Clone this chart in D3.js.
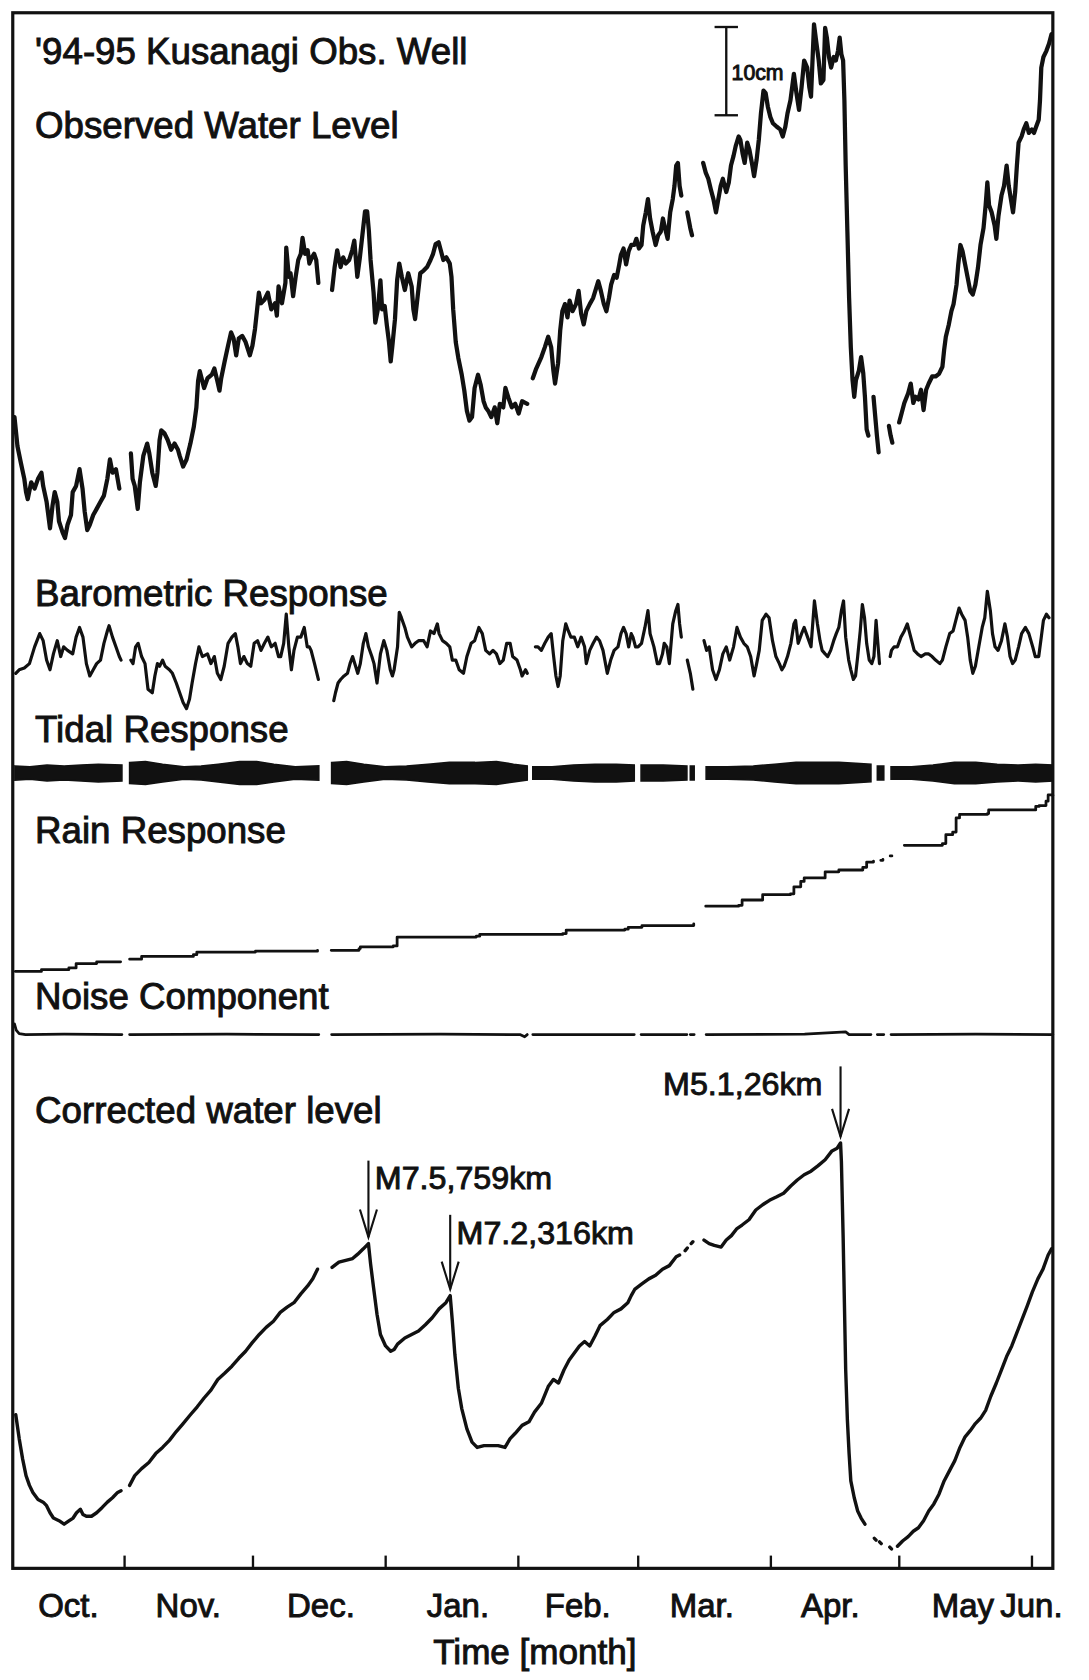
<!DOCTYPE html>
<html>
<head>
<meta charset="utf-8">
<script src="https://cdn.jsdelivr.net/npm/d3@7"></script>
<style>
  body { margin: 0; background: #fff; }
  text { font-family: "Liberation Sans", Arial, Helvetica, sans-serif; fill: #111; stroke: #111; stroke-width: 0.9; }
</style>
</head>
<body>
<div id="chart"></div>
<script>
// ---- data: [day since 1994-10-06, cm]; null marks a gap in the record ----
const monthTicks = ["1994-11-01", "1994-12-01", "1995-01-01", "1995-02-01", "1995-03-01", "1995-04-01", "1995-05-01", "1995-06-01"];
const monthNames = ["Oct.", "Nov.", "Dec.", "Jan.", "Feb.", "Mar.", "Apr.", "May", "Jun."];
const monthLabelDates = ["1994-10-19", "1994-11-16", "1994-12-17", "1995-01-18", "1995-02-15", "1995-03-16", "1995-04-15", "1995-05-16", "1995-06-01"];

const observed = [
  [0.4,17.8],[1.1,14.5],[1.9,12.6],[2.7,10.8],[3.1,9.3],[3.5,8.5],[4.3,10.4],[5.1,9.7],[5.9,10.8],[6.7,11.5],[7.1,10.0],[7.9,8.2],[8.7,5.2],[9.3,7.8],[9.8,9.3],[10.4,8.2],[10.8,6.0],[11.6,4.8],[12.2,4.1],[12.8,5.6],[13.6,6.7],[14.0,9.3],[14.8,10.0],[15.6,11.9],[16.3,9.7],[16.8,7.1],[17.4,5.0],[18.0,5.6],[18.8,6.7],[19.6,7.4],[20.5,8.2],[21.3,8.9],[22.1,10.8],[22.7,13.0],[23.3,11.5],[24.1,11.9],[24.9,9.7],
  [26,null],
  [27.6,13.7],[28.0,10.8],[28.5,10.0],[29.2,7.4],[29.7,10.4],[30.5,13.4],[31.4,14.8],[31.9,13.7],[32.6,11.5],[33.4,10.0],[33.8,11.5],[34.3,15.2],[34.7,16.3],[35.4,16.0],[36.2,15.2],[37.0,14.1],[37.8,14.8],[38.6,14.1],[39.0,13.4],[39.8,12.2],[40.6,13.0],[41.5,14.8],[42.3,16.7],[42.9,18.9],[43.3,21.9],[43.7,23.0],[44.7,21.1],[45.5,22.2],[46.5,22.6],[47.1,23.3],[47.8,21.9],[48.3,20.8],[48.7,22.2],[49.5,24.1],[50.3,25.9],[51.0,27.4],[51.6,26.7],[52.2,24.8],[52.8,26.7],[53.6,27.0],[54.4,26.3],[55.4,24.8],[56.0,25.9],[56.6,27.8],[57.0,29.6],[57.5,31.9],[58.0,30.7],[58.8,31.1],[59.6,31.9],[60.4,30.0],[61.3,30.7],[61.7,29.3],[62.1,32.6],[62.9,30.7],[63.7,33.0],[63.9,37.0],[64.5,33.7],[64.9,34.1],[65.5,31.5],[66.1,33.7],[66.7,35.6],[67.3,36.3],[67.7,38.1],[68.3,36.3],[68.9,36.7],[69.3,35.2],[69.9,35.9],[70.4,36.3],[70.9,35.6],[71.4,33.0],
  [73,null],
  [74.6,32.2],[75.2,34.8],[75.8,36.7],[76.6,34.8],[77.2,35.9],[77.8,35.2],[78.6,35.6],[79.3,36.7],[79.8,37.8],[80.5,33.7],[81.1,35.9],[81.7,38.5],[82.3,41.1],[82.8,41.1],[83.2,38.9],[83.6,35.6],[84.3,31.9],[84.7,28.5],[85.3,30.0],[85.9,33.3],[86.3,30.0],[86.9,30.4],[87.4,28.2],[87.9,26.3],[88.3,24.1],[88.7,25.9],[89.3,28.9],[89.8,33.3],[90.3,35.2],[90.9,33.7],[91.6,32.2],[92.4,34.1],[93.2,32.6],[93.6,30.0],[94.0,28.9],[94.6,31.5],[95.2,34.1],[96.0,34.4],[96.8,34.8],[97.6,35.6],[98.2,36.3],[98.8,37.4],[99.5,37.6],[100.0,36.7],[100.6,35.6],[101.3,35.9],[102.1,35.2],[102.5,33.7],[102.9,30.0],[103.5,26.3],[104.1,24.5],[104.9,22.6],[105.5,20.8],[106.1,18.5],[106.7,17.4],[107.3,17.8],[107.9,21.1],[108.7,22.6],[109.3,21.5],[110.0,19.6],[110.5,18.9],[111.1,18.5],[111.8,17.8],[112.6,18.9],[113.2,17.1],[113.8,19.3],[114.6,18.9],[115.1,21.1],[115.8,20.0],[116.6,18.9],[117.4,19.3],[118.2,18.2],[119.0,19.6],[120.2,19.3],
  [121,null],
  [121.5,22.2],[122.3,23.3],[123.5,24.6],[124.3,25.7],[125.1,26.9],[125.8,25.7],[126.3,23.1],[126.7,21.6],[127.4,23.9],[127.9,27.6],[128.4,29.8],[129.0,30.6],[129.6,29.1],[130.1,31.0],[130.8,29.8],[131.6,30.6],[132.2,32.1],[132.8,29.5],[133.4,28.3],[134.0,29.8],[134.8,30.6],[135.6,31.3],[136.3,32.4],[136.8,33.2],[137.4,32.1],[138.1,30.6],[138.7,29.8],[139.3,31.3],[139.8,32.8],[140.5,33.9],[141.1,33.6],[141.7,35.1],[142.1,36.2],[142.7,36.9],[143.3,35.1],[143.9,36.6],[144.5,37.3],[145.2,37.3],[145.7,38.0],[146.3,36.9],[146.9,37.3],[147.3,39.5],[147.9,41.0],[148.4,42.5],[148.9,40.3],[149.5,38.8],[150.2,37.3],[150.8,38.4],[151.4,38.8],[151.9,40.3],[152.4,39.2],[153.0,38.0],[153.6,41.0],[154.2,42.5],[154.6,44.0],[155.0,46.3],[155.4,46.6],[155.8,44.0],[156.2,42.9],
  [157,null],
  [157.6,41.0],[158.3,39.2],[158.7,38.4],
  [160,null],
  [161.3,46.6],[161.9,45.5],[162.5,44.8],[163.1,43.6],[163.7,42.5],[164.3,41.0],[164.7,42.1],[165.4,44.0],[165.9,44.8],[166.7,43.3],[167.3,44.4],[167.8,46.3],[168.4,47.4],[168.9,48.5],[169.6,49.6],[170.0,49.2],[170.5,47.7],[171.0,46.6],[171.6,48.9],[172.1,48.1],[172.8,46.3],[173.2,45.1],[173.8,47.0],[174.3,49.2],[174.8,52.2],[175.4,54.8],[175.9,54.5],[176.4,53.0],[177.0,51.8],[177.6,51.1],[178.5,50.7],[179.3,50.4],[179.9,49.6],[180.5,50.7],[181.0,52.2],[181.7,53.7],[182.1,55.2],[182.5,56.7],[183.1,54.5],[183.7,52.6],[184.3,55.2],[184.9,58.2],[185.6,57.4],[186.1,55.2],[186.5,54.1],[187.2,62.3],[187.7,60.4],[188.3,58.2],[188.8,55.6],[189.4,56.0],[189.8,61.9],[190.2,60.8],[190.7,58.6],[191.2,57.4],[191.8,58.6],[192.3,58.2],[192.8,59.3],[193.2,60.8],[193.6,58.9],[194.0,58.2],[194.3,53.7],[194.6,46.3],[195.0,38.8],[195.4,31.3],[195.8,25.7],[196.2,22.0],[196.6,20.1],[197.0,22.0],[197.7,23.1],[198.2,24.6],[198.7,22.8],[199.1,20.1],[199.5,16.4],[199.9,15.7],
  [200.5,null],
  [201.1,20.1],[201.5,17.9],[201.9,15.7],[202.3,13.8],
  [203.5,null],
  [204.7,16.8],[205.1,15.7],[205.5,14.9],
  [206.3,null],
  [207.1,17.2],[207.7,18.3],[208.3,19.4],[209.2,20.5],[209.8,21.6],[210.4,19.4],[210.9,20.1],[211.6,19.8],[212.2,20.9],[212.8,18.6],[213.4,20.9],[214.0,21.6],[214.8,22.4],[215.6,22.4],[216.4,22.7],[217.2,23.5],[217.6,25.4],[218.0,26.9],[218.7,28.3],[219.3,29.8],[219.8,30.6],[220.5,32.8],[220.9,35.1],[221.4,37.3],[221.9,36.6],[222.5,35.1],[223.1,33.6],[223.7,32.1],[224.3,31.7],[224.9,32.8],[225.5,34.7],[226.1,37.3],[226.8,39.2],[227.3,41.8],[227.7,44.4],[228.1,41.8],[228.7,41.0],[229.4,39.5],[229.8,38.0],[230.3,40.6],[231.0,42.9],[231.6,44.0],[232.2,46.3],[232.7,44.0],[233.2,42.5],[233.7,41.0],[234.2,43.3],[234.6,46.3],[235.0,48.9],[235.7,49.6],[236.2,50.4],[236.8,51.1],[237.4,50.0],[238.1,50.4],[238.6,50.0],[239.1,50.7],[239.7,51.5],[240.0,53.7],[240.3,57.4],[240.8,58.6],[241.5,59.3],[242.1,60.1],[242.7,61.2]
];

const barometric = [
  [0.7,-2.8],[1.5,-2.4],[2.7,-2.2],[3.9,-1.7],[5.1,0.2],[6.3,1.7],[7.1,0.9],[7.9,-1.3],[8.7,-2.4],[9.5,-0.6],[10.4,0.9],[11.2,-0.9],[11.9,0.2],[12.8,-0.2],[14.0,-0.6],[14.8,1.3],[15.6,2.4],[16.4,1.3],[17.2,-1.7],[18.0,-3.1],[18.8,-2.4],[19.6,-1.7],[20.5,-1.3],[21.3,0.6],[22.1,2.0],[22.5,2.6],[23.3,1.3],[24.1,0.2],[24.9,-0.9],[25.3,-1.3],
  [26.4,null],
  [27.6,-1.3],[28.1,-1.7],[28.7,0.2],[29.3,0.6],[30.1,-0.9],[30.9,-1.7],[31.6,-4.6],[32.6,-5.0],[33.2,-3.1],[33.8,-1.7],[34.3,-2.0],[35.0,-1.3],[35.6,-2.0],[36.6,-2.4],[37.3,-2.8],[38.2,-3.9],[39.0,-5.0],[39.8,-6.1],[40.6,-6.8],[41.3,-5.7],[41.9,-3.9],[42.7,-1.7],[43.5,0.2],[44.3,-0.9],[45.5,-0.6],[46.3,-1.7],[47.1,-0.9],[47.8,-2.8],[48.6,-3.5],[49.4,-2.0],[50.3,0.6],[51.2,1.3],[52.0,1.7],[52.6,0.2],[53.2,-1.7],[54.0,-0.9],[54.8,-1.7],[55.6,-2.0],[56.4,0.6],[57.2,0.9],[58.0,-0.2],[58.8,0.6],[59.6,1.3],[60.4,0.2],[61.3,0.6],[62.1,-0.9],[62.6,-0.9],[63.3,0.6],[63.9,3.9],[64.5,0.2],[65.1,-2.4],[65.7,-0.2],[66.5,1.3],[67.3,1.3],[68.1,2.4],[68.8,0.2],[69.3,0.2],[69.7,-0.2],[70.5,-1.7],[71.4,-3.5],
  [73,null],
  [75.0,-5.9],[75.4,-5.0],[76.0,-3.9],[76.6,-3.5],[77.4,-3.1],[78.2,-2.8],[78.8,-1.7],[79.4,-0.9],[80.1,-2.0],[80.6,-2.8],[81.2,-1.7],[81.9,0.6],[82.5,1.7],[83.1,0.2],[83.9,-0.9],[84.4,-1.7],[85.1,-3.9],[85.9,-0.6],[86.7,0.9],[87.4,-0.2],[88.2,-2.4],[88.7,-3.1],[89.1,-2.4],[89.9,0.2],[90.3,4.1],[90.8,3.5],[91.6,2.4],[92.2,1.3],[93.2,0.2],[94.0,0.6],[94.8,0.9],[96.0,0.9],[96.8,0.2],[97.6,2.0],[98.4,1.7],[99.2,2.8],[99.6,1.7],[100.4,0.9],[101.3,0.6],[102.1,0.2],[102.7,-1.3],[103.5,-1.3],[104.3,-2.4],[105.3,-2.8],[106.1,-0.9],[107.1,0.6],[107.9,0.9],[108.9,2.4],[109.7,1.7],[110.5,-0.2],[111.4,-0.6],[112.2,-0.2],[113.0,-0.6],[113.8,-1.7],[114.6,-1.3],[115.4,0.6],[116.2,0.6],[116.8,-0.9],[117.8,-1.3],[118.6,-2.4],[119.0,-3.1],[119.8,-2.4],[120.2,-2.8],
  [121,null],
  [122.1,0.2],[122.7,0.2],[123.5,-0.2],[124.3,0.6],[125.1,1.3],[125.8,1.7],[126.3,-0.6],[126.9,-3.1],[127.4,-4.3],[127.9,-3.1],[128.5,0.9],[129.2,2.8],[129.8,2.0],[130.4,1.3],[131.2,1.3],[132.0,0.2],[132.8,1.3],[133.6,0.2],[134.0,-1.7],[134.8,-0.2],[135.6,0.6],[136.4,1.3],[137.1,0.9],[137.9,-0.2],[138.9,-2.8],[139.7,-1.3],[140.5,-0.2],[141.4,0.2],[142.1,1.7],[142.7,2.4],[143.3,1.7],[143.9,0.2],[144.5,1.7],[144.9,1.3],[145.5,0.2],[146.1,0.2],[146.9,0.6],[147.7,2.4],[148.4,4.3],[148.9,1.7],[149.8,0.2],[150.6,-1.7],[151.1,-1.7],[151.8,-0.6],[152.2,0.6],[152.8,0.2],[153.4,-1.7],[154.2,2.8],[154.9,4.3],[155.4,5.0],[155.8,2.8],[156.2,1.3],
  [157,null],
  [157.6,-1.3],[158.3,-2.8],[158.9,-4.6],
  [160,null],
  [161.5,0.9],[162.1,-0.2],[162.7,0.2],[163.5,-2.4],[164.3,-3.5],[165.1,-2.4],[165.9,-0.6],[166.7,0.2],[167.5,-1.3],[168.4,0.2],[169.2,2.4],[170.0,1.3],[170.8,0.6],[171.6,0.2],[172.4,-0.9],[173.2,-3.1],[173.8,-1.7],[174.4,-0.2],[175.1,3.2],[176.0,3.9],[176.7,3.5],[177.5,0.9],[178.3,-0.9],[179.1,-1.7],[179.7,-2.4],[180.2,-2.0],[181.0,-0.9],[181.8,0.6],[182.5,2.8],[182.9,3.2],[183.5,0.6],[184.3,1.7],[184.9,2.4],[185.7,1.3],[186.5,0.2],[187.3,5.4],[188.0,2.8],[188.6,0.9],[189.1,-0.2],[189.8,-0.6],[190.4,-0.9],[191.1,-0.2],[191.8,0.9],[192.4,1.7],[193.0,2.4],[193.6,4.3],[194.1,5.4],[194.6,1.3],[195.3,-1.3],[195.8,-2.4],[196.4,-3.5],[196.9,-3.1],[197.4,-0.9],[198.0,2.0],[198.5,5.0],[199.0,3.5],[199.5,0.6],[200.1,-1.3],[200.7,-1.7],[201.2,-0.9],[201.7,3.2],[202.0,1.3],[202.5,-1.7],
  [203.8,null],
  [205.0,-0.9],[205.3,-0.2],[205.9,0.2],[206.7,0.2],[207.5,1.3],[208.3,2.0],[209.0,2.8],[209.8,1.3],[210.6,-0.2],[211.4,-0.6],[212.2,-0.9],[213.2,-0.6],[214.0,-0.6],[214.8,-0.9],[215.6,-1.3],[216.6,-1.7],[217.2,-1.3],[218.0,0.2],[218.9,1.7],[219.7,2.0],[220.5,3.5],[221.1,4.6],[221.7,3.9],[222.5,3.2],[223.1,1.3],[223.7,-1.3],[224.3,-2.8],[224.9,-2.0],[225.7,0.2],[226.5,2.4],[227.1,3.5],[227.7,6.5],[228.4,4.3],[228.9,1.7],[229.5,0.2],[230.2,-0.2],[231.0,0.9],[231.8,2.8],[232.4,1.3],[233.0,-0.9],[233.6,-1.7],[234.2,-1.3],[235.0,0.2],[235.7,1.7],[236.6,2.4],[237.4,1.7],[238.3,0.2],[238.9,-0.9],[239.7,-0.9],[240.3,1.3],[240.8,3.2],[241.5,3.9],[242.1,3.5]
];

// tidal response: half-width of the semidiurnal band (cm)
const tidalEnvelope = [
  [0.5,0.8],[4,0.7],[8,0.9],[12,0.8],[16,0.9],[20,1.0],[25.5,0.9],
  [26.4,null],
  [27.3,1.2],[31,1.3],[35,1.0],[40,0.7],[44,0.8],[48,1.0],[53,1.3],[57,1.3],[61,1.0],[66,0.7],[71.5,0.8],
  [73,null],
  [74.5,1.2],[78,1.3],[82,1.0],[87,0.7],[92,0.8],[97,1.0],[102,1.2],[108,1.2],[113,1.3],[117,1.0],[120.2,0.8],
  [121,null],
  [121.5,0.7],[126,0.7],[131,0.9],[136,1.0],[141,1.0],[145.2,0.9],
  [146,null],
  [146.8,0.9],[152,0.9],[157.5,0.8],
  [157.9,null],
  [158.3,0.8],[159.2,0.8],
  [160.5,null],
  [162,0.7],[167,0.7],[173,0.8],[178,1.0],[183,1.2],[188,1.2],[193,1.2],[197,1.1],[200.5,1.0],
  [201,null],
  [202,0.8],[203.5,0.8],
  [204.4,null],
  [205.2,0.7],[210,0.7],[215,0.9],[220,1.2],[225,1.2],[230,1.0],[235,0.9],[239,1.0],[243,0.9]
];

const rain = [
  [0.6,-0.2],[6.7,0.0],[13.1,0.2],[14.8,0.7],[19.6,0.9],[25.2,0.9],
  [26.2,null],
  [27.3,1.2],[30.1,1.5],[42.2,1.7],[43.0,2.0],[56.7,2.1],[71.2,2.2],
  [72.8,null],
  [74.4,2.2],[80.9,2.4],[81.2,2.6],[88.9,2.7],[89.8,3.7],[108.3,3.8],[109.1,4.0],[128.5,4.1],[129.3,4.5],[143.0,4.6],[143.8,4.8],[147.0,5.0],[159.1,5.2],
  [160.5,null],
  [161.9,7.2],[169.6,7.3],[170.4,7.9],[174.5,7.9],[175.2,8.5],[181.7,8.6],[182.5,9.4],[184.1,10.0],[184.9,10.4],[189.0,10.4],[189.8,11.1],[193.0,11.3],[198.6,11.6],[199.5,12.2],[201.1,12.3],
  [201.8,null],
  [202.8,12.4],[203.3,12.5],
  [204.2,null],
  [205.0,12.9],[205.4,12.9],
  [206.8,null],
  [208.3,14.1],[217.2,14.3],[218.0,15.3],[219.6,15.6],[220.4,17.2],[221.2,17.6],[227.7,17.7],[228.0,18.1],[239.0,18.5],[239.8,18.6],[241.4,19.1],[241.9,19.8],[243.0,19.7]
];

const noise = [
  [0.4,1.2],[0.8,0.5],[1.5,0.1],[3,0],[12,0.05],[25.5,0],
  [26.4,null],
  [27.3,0],[50,0.05],[71.5,0],
  [73,null],
  [74.5,0],[100,0.05],[118.5,0],[119.6,-0.25],[120.2,0],
  [121,null],
  [121.5,0],[145.2,0],
  [146,null],
  [146.8,0],[157.5,0],
  [157.9,null],
  [158.3,0],[159.2,0],
  [160.5,null],
  [162,0],[185,0.05],[194.6,0.3],[195.4,0],[200.5,0],
  [201,null],
  [202,0],[203.5,0],
  [204.4,null],
  [205.2,0],[225,0.05],[243,0]
];

const corrected = [
  [0.7,16.8],[1.5,14.1],[2.3,11.8],[3.1,9.9],[3.9,8.8],[4.7,8.0],[5.9,7.2],[7.1,6.9],[7.9,6.5],[8.7,5.7],[9.5,5.1],[10.8,4.8],[12.0,4.4],[13.2,4.8],[14.1,5.1],[14.9,5.7],[15.8,6.1],[16.4,5.5],[17.2,5.3],[18.4,5.3],[19.6,5.7],[20.9,6.3],[22.1,6.9],[23.3,7.4],[24.5,8.0],[25.3,8.2],
  [26.3,null],
  [27.3,8.8],[28.5,9.9],[30.1,10.7],[31.8,11.4],[33.4,12.4],[35.0,13.1],[36.6,13.9],[38.2,14.9],[39.8,15.8],[41.5,16.8],[43.1,17.7],[44.7,18.7],[46.3,19.6],[47.9,20.8],[49.5,21.5],[51.2,22.3],[52.8,23.2],[54.4,24.0],[56.0,25.0],[57.6,25.9],[59.2,26.7],[60.9,27.4],[62.5,28.4],[64.1,29.0],[65.7,29.5],[67.3,30.5],[68.9,31.4],[70.1,32.2],[71.2,33.3],
  [73,null],
  [74.6,33.5],[76.2,34.1],[77.8,34.3],[79.4,34.5],[80.6,35.0],[81.9,35.6],[83.1,36.2],[83.6,33.9],[84.3,31.2],[85.1,28.2],[85.9,25.9],[87.1,24.6],[88.3,24.0],[89.1,24.2],[89.9,24.8],[91.6,25.5],[93.2,25.9],[94.8,26.3],[96.4,27.0],[98.0,27.8],[99.6,28.8],[101.2,29.5],[102.2,30.3],[102.7,27.4],[103.3,23.6],[104.1,19.8],[104.9,17.5],[106.1,15.2],[107.3,13.7],[108.5,13.1],[110.1,13.3],[111.8,13.3],[113.4,13.3],[115.0,13.1],[116.2,14.1],[117.4,14.7],[119.0,15.6],[120.6,16.0],[121.9,17.1],[123.5,18.1],[125.1,20.0],[126.3,20.8],[127.5,20.4],[128.8,21.9],[130.0,23.0],[131.2,23.8],[132.4,24.6],[133.6,25.1],[134.8,24.6],[136.0,25.7],[137.2,26.9],[138.9,27.6],[140.5,28.4],[142.1,28.8],[143.7,29.5],[144.5,30.3],[145.3,31.0],[146.9,31.6],[148.6,32.2],[150.2,32.6],[151.8,33.3],[153.4,33.7],[155.0,34.7],[155.8,34.9],
  [156.6,null],
  [157.1,35.4],[157.6,35.7],
  [158.2,null],
  [158.5,36.2],[158.9,36.4],
  [160.3,null],
  [161.5,36.6],[162.7,36.2],[163.9,36.0],[165.5,35.8],[166.7,36.6],[167.9,37.1],[169.2,37.9],[170.4,38.3],[172.0,38.9],[173.6,40.0],[175.2,40.6],[176.8,41.1],[178.5,41.5],[180.1,41.9],[181.7,42.7],[183.3,43.4],[184.9,44.0],[186.5,44.4],[188.1,45.0],[189.8,45.7],[191.4,46.7],[192.6,47.0],[193.4,47.6],[193.6,45.5],[194.0,37.1],[194.3,29.5],[194.6,21.9],[195.0,16.2],[195.4,12.4],[195.8,9.3],[196.6,7.4],[197.4,5.9],[198.2,5.1],[199.1,4.4],
  [200.2,null],
  [201.3,2.8],[201.7,2.6],
  [202.2,null],
  [202.5,2.4],[202.9,2.2],
  [204.0,null],
  [204.9,1.8],[205.3,1.6],
  [206.0,null],
  [206.7,1.9],[207.9,2.5],[209.2,3.0],[210.4,3.6],[211.6,4.0],[212.8,4.8],[214.0,5.9],[215.2,6.7],[216.4,7.8],[217.6,9.3],[218.9,10.5],[220.1,11.6],[221.3,13.1],[222.5,14.3],[223.7,15.0],[224.9,15.8],[226.1,16.4],[227.3,17.3],[228.5,18.9],[229.8,20.4],[231.0,21.9],[232.2,23.4],[233.4,24.6],[234.6,26.1],[235.8,27.6],[237.0,29.1],[238.2,30.7],[239.5,32.2],[240.7,33.3],[241.9,34.9],[242.7,35.6]
];

// earthquakes marked on the corrected record
const quakeDays = [83.1, 102.2, 193.4];
const quakeLabels = ["M7.5,759km", "M7.2,316km", "M5.1,26km"];

// ---- drawing ----
const W = 1024, H = 1580;
const frame = { left: 12, right: 990, top: 12, bottom: 1475 };

const svg = d3.select("#chart").append("svg")
  .attr("width", 1089).attr("height", 1680)
  .attr("viewBox", `0 0 ${W} ${H}`)
  .attr("preserveAspectRatio", "none");

const t0 = Date.UTC(1994, 9, 6);
const toDate = d => new Date(t0 + d * 864e5);
const parse = d3.utcParse("%Y-%m-%d");

const x = d3.scaleUtc()
  .domain([toDate(0), toDate(243)])
  .range([frame.left, frame.right]);

// every panel shares the same 10 cm = 83 px vertical scale, only the base differs
const cmScale = base => d3.scaleLinear().domain([0, 10]).range([base, base - 83]);
const yObs = cmScale(540), yBaro = cmScale(610), yTide = cmScale(727),
      yRain = cmScale(912), yNoise = cmScale(973), yCorr = cmScale(1470);

function trace(data, y, width, curve) {
  const line = d3.line()
    .defined(d => d[1] != null)
    .x(d => x(toDate(d[0])))
    .y(d => y(d[1]))
    .curve(curve || d3.curveLinear);
  svg.append("path")
    .datum(data)
    .attr("d", line)
    .attr("fill", "none")
    .attr("stroke", "#111")
    .attr("stroke-width", width)
    .attr("stroke-linejoin", "round")
    .attr("stroke-linecap", "round");
}

trace(observed, yObs, 4);
trace(barometric, yBaro, 3);
trace(rain, yRain, 2.6, d3.curveStepAfter);
trace(noise, yNoise, 2.6);
trace(corrected, yCorr, 3.2);

// tidal band drawn as its envelope
const tideArea = d3.area()
  .defined(d => d[1] != null)
  .x(d => x(toDate(d[0])))
  .y0(d => yTide(-d[1]))
  .y1(d => yTide(d[1]));
svg.append("path")
  .datum(tidalEnvelope)
  .attr("d", tideArea)
  .attr("fill", "#111")
  .attr("stroke", "#111")
  .attr("stroke-width", 1.5);

// frame
svg.append("rect")
  .attr("x", frame.left).attr("y", frame.top)
  .attr("width", frame.right - frame.left)
  .attr("height", frame.bottom - frame.top)
  .attr("fill", "none")
  .attr("stroke", "#111")
  .attr("stroke-width", 3);

// month ticks, pointing up into the plot
const axis = d3.axisBottom(x)
  .tickValues(monthTicks.map(parse))
  .tickSize(-12)
  .tickFormat("");
svg.append("g")
  .attr("transform", `translate(0,${frame.bottom})`)
  .call(axis)
  .call(g => g.select(".domain").remove())
  .call(g => g.selectAll(".tick line").attr("stroke", "#111").attr("stroke-width", 2.2));

svg.selectAll(".month")
  .data(monthNames)
  .enter()
  .append("text")
  .attr("class", "month")
  .attr("x", (d, i) => x(parse(monthLabelDates[i])))
  .attr("y", 1521)
  .attr("text-anchor", "middle")
  .attr("font-size", 31)
  .text(d => d);

svg.append("text")
  .attr("x", 503).attr("y", 1565)
  .attr("text-anchor", "middle")
  .attr("font-size", 33)
  .text("Time [month]");

// panel titles
const titles = [
  ["'94-95 Kusanagi Obs. Well", 60],
  ["Observed Water Level", 130],
  ["Barometric Response", 570],
  ["Tidal Response", 698],
  ["Rain Response", 793],
  ["Noise Component", 949],
  ["Corrected water level", 1056]
];
svg.selectAll(".title")
  .data(titles)
  .enter()
  .append("text")
  .attr("class", "title")
  .attr("x", 33)
  .attr("y", d => d[1])
  .attr("font-size", 34.5)
  .text(d => d[0]);

// 10 cm scale bar
const barX = x(toDate(166.7));
const bar = svg.append("g").attr("stroke", "#111").attr("stroke-width", 2.2);
bar.append("line").attr("x1", barX).attr("x2", barX).attr("y1", yObs(62)).attr("y2", yObs(52));
bar.append("line").attr("x1", barX - 11).attr("x2", barX + 11).attr("y1", yObs(62)).attr("y2", yObs(62));
bar.append("line").attr("x1", barX - 11).attr("x2", barX + 11).attr("y1", yObs(52)).attr("y2", yObs(52));
svg.append("text")
  .attr("x", barX + 5).attr("y", yObs(57) + 8)
  .attr("font-size", 20)
  .attr("stroke-width", 0.6)
  .text("10cm");

// earthquake arrows
const arrowLen = [72, 70, 66];
quakeDays.forEach((qd, i) => {
  const near = corrected.filter(d => d[1] != null)
    .reduce((a, b) => Math.abs(b[0] - qd) < Math.abs(a[0] - qd) ? b : a);
  const ax = x(toDate(qd));
  const tip = yCorr(near[1]) - 6;
  const top = tip - arrowLen[i];
  const g = svg.append("g").attr("stroke", "#111").attr("stroke-width", 2).attr("fill", "none");
  g.append("line").attr("x1", ax).attr("x2", ax).attr("y1", top).attr("y2", tip);
  g.append("path").attr("d", `M${ax - 8},${tip - 26}L${ax},${tip}L${ax + 8},${tip - 26}`);
  const label = svg.append("text")
    .attr("font-size", 30.3)
    .attr("y", top + 27)
    .text(quakeLabels[i]);
  if (i === 2) label.attr("x", ax - 17).attr("text-anchor", "end");
  else label.attr("x", ax + 6);
});
</script>
</body>
</html>
